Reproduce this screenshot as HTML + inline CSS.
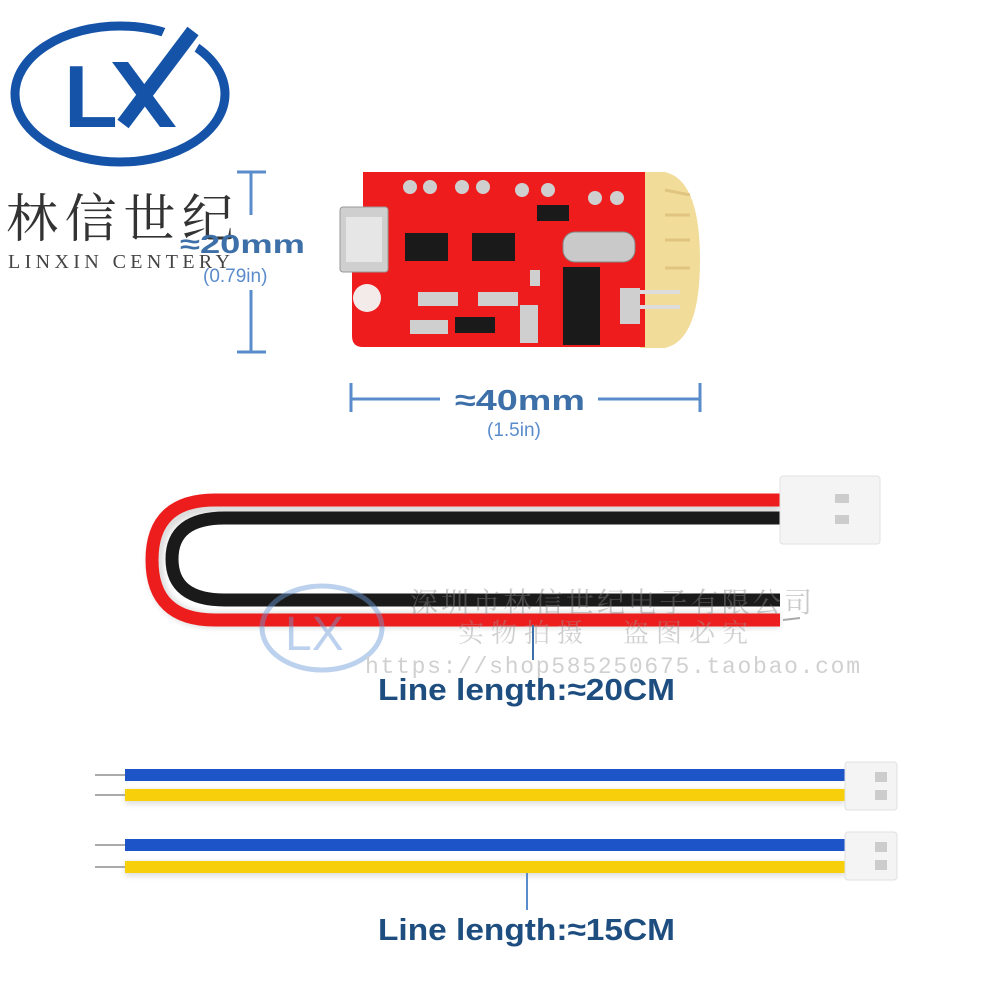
<!DOCTYPE html>
<html><head><meta charset="utf-8"><style>html,body{margin:0;padding:0;background:#fff;}svg{display:block}</style></head>
<body>
<svg width="1000" height="1000" viewBox="0 0 1000 1000" xmlns="http://www.w3.org/2000/svg">
<defs>
<filter id="sh" x="-5%" y="-50%" width="110%" height="200%"><feGaussianBlur stdDeviation="3"/></filter>
</defs>
<rect width="1000" height="1000" fill="#fff"/>
<!-- Logo -->
<ellipse cx="120" cy="94" rx="105" ry="68" fill="none" stroke="#1553a8" stroke-width="9"/>
<path d="M168 22 L212 22 L150 128 L120 128 Z" fill="#fff"/>
<text x="64" y="127" font-family="Liberation Sans, sans-serif" font-weight="bold" font-size="88" fill="#1553a8">L</text>
<path d="M112 62 L128 62 L176 127 L160 127 Z" fill="#1553a8"/>
<line x1="123" y1="124" x2="193" y2="31" stroke="#1553a8" stroke-width="14"/>
<text x="6" y="237" font-family="Liberation Serif, 'Noto Serif CJK SC', serif" font-size="52" fill="#333" textLength="228">林信世纪</text>
<text x="8" y="268" font-family="Liberation Serif, serif" font-size="20" fill="#444" textLength="222" lengthAdjust="spacing">LINXIN CENTERY</text>
<!-- vertical dimension -->
<g stroke="#5a8ccc" stroke-width="3">
<line x1="237" y1="172" x2="266" y2="172"/><line x1="251" y1="172" x2="251" y2="215"/>
<line x1="237" y1="352" x2="266" y2="352"/><line x1="251" y1="290" x2="251" y2="352"/>
</g>
<text x="180" y="253" font-family="Liberation Sans, sans-serif" font-weight="bold" font-size="26" fill="#3d6fa8" textLength="125" lengthAdjust="spacingAndGlyphs">≈20mm</text>
<text x="203" y="282" font-family="Liberation Sans, sans-serif" font-size="19" fill="#5a8ccc">(0.79in)</text>
<!-- PCB -->
<path d="M640 172 L665 172 Q700 180 700 260 Q700 340 665 348 L640 348 Z" fill="#f2dc9a"/>
<path d="M665 190 L690 195 M665 215 L690 215 M665 240 L690 240 M665 268 L690 268" stroke="#e0c580" stroke-width="3"/>
<path d="M363 172 L645 172 L645 347 L363 347 Q352 347 352 336 L352 230 L363 230 Z" fill="#ee1c1c"/>
<rect x="640" y="290" width="40" height="4" fill="#ddd"/><rect x="640" y="305" width="40" height="4" fill="#ddd"/>
<rect x="340" y="207" width="48" height="65" rx="3" fill="#cfcfcf" stroke="#999"/>
<rect x="346" y="217" width="36" height="45" fill="#e6e6e6"/>
<circle cx="367" cy="298" r="14" fill="#f3eaea"/>
<rect x="405" y="233" width="43" height="28" fill="#1a1a1a"/>
<rect x="472" y="233" width="43" height="28" fill="#1a1a1a"/>
<rect x="563" y="267" width="37" height="78" fill="#1a1a1a"/>
<rect x="563" y="232" width="72" height="30" rx="12" fill="#c9c9c9" stroke="#888"/>
<rect x="537" y="205" width="32" height="16" fill="#1a1a1a"/>
<rect x="455" y="317" width="40" height="16" fill="#1a1a1a"/>
<g fill="#cfcfcf"><circle cx="410" cy="187" r="7"/><circle cx="430" cy="187" r="7"/><circle cx="462" cy="187" r="7"/><circle cx="483" cy="187" r="7"/><circle cx="522" cy="190" r="7"/><circle cx="548" cy="190" r="7"/><circle cx="595" cy="198" r="7"/><circle cx="617" cy="198" r="7"/>
<rect x="418" y="292" width="40" height="14"/><rect x="478" y="292" width="40" height="14"/><rect x="520" y="305" width="18" height="38"/><rect x="620" y="288" width="20" height="36"/><rect x="410" y="320" width="38" height="14"/><rect x="530" y="270" width="10" height="16"/></g>
<!-- horizontal dimension -->
<g stroke="#5a8ccc" stroke-width="3">
<line x1="351" y1="383" x2="351" y2="412"/><line x1="351" y1="399" x2="440" y2="399"/>
<line x1="598" y1="399" x2="700" y2="399"/><line x1="700" y1="383" x2="700" y2="412"/>
</g>
<text x="455" y="410" font-family="Liberation Sans, sans-serif" font-weight="bold" font-size="29" fill="#3d6fa8" textLength="130" lengthAdjust="spacingAndGlyphs">≈40mm</text>
<text x="487" y="436" font-family="Liberation Sans, sans-serif" font-size="19" fill="#5a8ccc">(1.5in)</text>
<!-- U cable -->
<path d="M780 506 L215 506 Q155 506 155 563 Q155 620 215 620 L780 620" fill="none" stroke="#ddd" stroke-width="16" filter="url(#sh)"/>
<path d="M780 500 L215 500 Q152 500 152 560 Q152 620 215 620 L780 620" fill="none" stroke="#ee1d1d" stroke-width="13"/>
<path d="M780 518 L225 518 Q172 518 172 559 Q172 600 225 600 L780 600" fill="none" stroke="#1a1a1a" stroke-width="13"/>
<rect x="780" y="476" width="100" height="68" rx="3" fill="#f4f4f4" stroke="#e2e2e2"/>
<rect x="835" y="494" width="14" height="9" fill="#ccc"/><rect x="835" y="515" width="14" height="9" fill="#ccc"/>
<line x1="783" y1="620" x2="800" y2="618" stroke="#aaa" stroke-width="2"/>
<!-- watermark -->
<g opacity="0.45">
<ellipse cx="322" cy="628" rx="60" ry="42" fill="none" stroke="#6a9ad8" stroke-width="5"/>
<text x="285" y="650" font-family="Liberation Sans, sans-serif" font-size="48" fill="#6a9ad8">LX</text>
<text x="410" y="612" font-family="Liberation Serif,'Noto Serif CJK SC', serif" font-size="28" fill="#888" textLength="402">深圳市林信世纪电子有限公司</text>
<text x="458" y="642" font-family="Liberation Serif,'Noto Serif CJK SC', serif" font-size="26" fill="#999" textLength="290">实物拍摄　盗图必究</text>
<text x="365" y="673" font-family="Liberation Mono, monospace" font-size="23" fill="#999" textLength="495">https://shop585250675.taobao.com</text>
</g>
<line x1="533" y1="625" x2="533" y2="660" stroke="#3d6fa8" stroke-width="2"/>
<text x="378" y="700" font-family="Liberation Sans, sans-serif" font-weight="bold" font-size="31" fill="#1e4e80" textLength="297" lengthAdjust="spacingAndGlyphs">Line length:≈20CM</text>
<!-- 15cm wires -->
<g filter="url(#sh)" opacity="0.5"><rect x="125" y="790" width="720" height="14" fill="#bbb"/><rect x="125" y="862" width="720" height="14" fill="#bbb"/></g>
<g stroke="#aaa" stroke-width="2"><line x1="95" y1="775" x2="125" y2="775"/><line x1="95" y1="795" x2="125" y2="795"/><line x1="95" y1="845" x2="125" y2="845"/><line x1="95" y1="867" x2="125" y2="867"/></g>
<rect x="125" y="769" width="720" height="12" fill="#1d55c8"/>
<rect x="125" y="789" width="720" height="12" fill="#f7cf0a"/>
<rect x="125" y="839" width="720" height="12" fill="#1d55c8"/>
<rect x="125" y="861" width="720" height="12" fill="#f7cf0a"/>
<rect x="845" y="762" width="52" height="48" rx="3" fill="#f4f4f4" stroke="#e0e0e0"/>
<rect x="845" y="832" width="52" height="48" rx="3" fill="#f4f4f4" stroke="#e0e0e0"/>
<g fill="#ccc"><rect x="875" y="772" width="12" height="10"/><rect x="875" y="790" width="12" height="10"/><rect x="875" y="842" width="12" height="10"/><rect x="875" y="860" width="12" height="10"/></g>
<line x1="527" y1="873" x2="527" y2="910" stroke="#5a8ccc" stroke-width="2"/>
<text x="378" y="940" font-family="Liberation Sans, sans-serif" font-weight="bold" font-size="31" fill="#1e4e80" textLength="297" lengthAdjust="spacingAndGlyphs">Line length:≈15CM</text>
</svg>
</body></html>
